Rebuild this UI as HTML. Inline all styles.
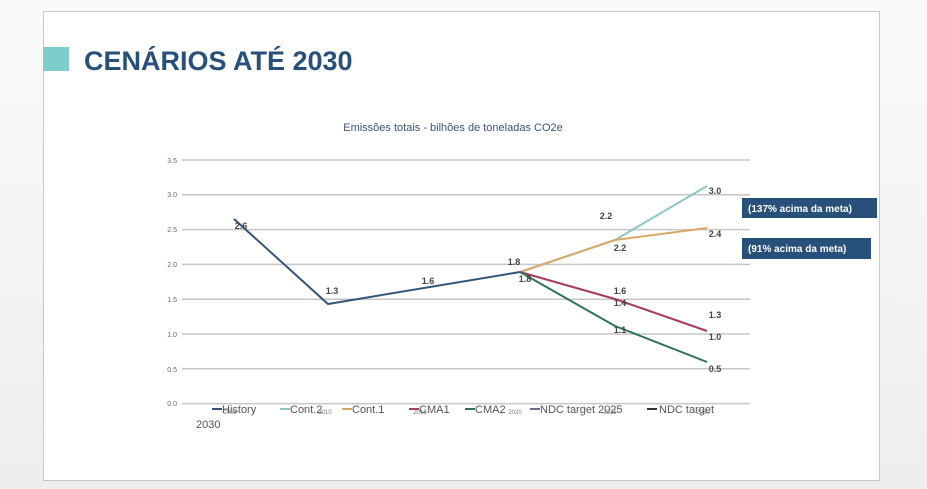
<!DOCTYPE html>
<html><head><meta charset="utf-8"><style>
body{margin:0;width:927px;height:489px;background:linear-gradient(#fafafa,#eeeeee);font-family:"Liberation Sans",Arial,sans-serif;overflow:hidden;position:relative}
.panel{position:absolute;left:43px;top:11px;width:835px;height:468px;background:#fff;border:1px solid #c8c8c8}
</style></head><body>
<div class="panel"></div>
<svg width="927" height="489" style="position:absolute;left:0;top:0" font-family="Liberation Sans, Arial, sans-serif">
<rect x="43" y="47" width="26" height="24" fill="#7ecdcd"/>
<text x="84" y="70" font-size="27" font-weight="bold" fill="#27507a">CENÁRIOS ATÉ 2030</text>
<text x="453" y="131" font-size="11" fill="#3b5573" text-anchor="middle">Emissões totais - bilhões de toneladas CO2e</text>
<g stroke="#c6c6c6" stroke-width="1.5">
<line x1="182" x2="750" y1="160" y2="160"/><line x1="182" x2="750" y1="194.8" y2="194.8"/>
<line x1="182" x2="750" y1="229.6" y2="229.6"/><line x1="182" x2="750" y1="264.4" y2="264.4"/>
<line x1="182" x2="750" y1="299.2" y2="299.2"/><line x1="182" x2="750" y1="334" y2="334"/>
<line x1="182" x2="750" y1="368.8" y2="368.8"/><line x1="182" x2="750" y1="403.6" y2="403.6"/>
</g>
<g font-size="7" fill="#666" text-anchor="end">
<text x="177" y="163">3.5</text><text x="177" y="197">3.0</text><text x="177" y="232">2.5</text>
<text x="177" y="267">2.0</text><text x="177" y="302">1.5</text><text x="177" y="337">1.0</text>
<text x="177" y="372">0.5</text><text x="177" y="406">0.0</text>
</g>
<g fill="none" stroke-width="2">
<polyline points="520,272 615,240 707,186" stroke="#8cc8c4"/>
<polyline points="520,272 615,240 707,228" stroke="#d8a866"/>
<polyline points="520,272 615,299 707,331" stroke="#a83a5a"/>
<polyline points="520,272 615,326 707,362" stroke="#2e7358"/>
<polyline points="234,219 328,304 520,272" stroke="#34557a"/>
</g>
<g font-size="9" font-weight="bold" fill="#444" text-anchor="middle">
<text x="241" y="229">2.6</text><text x="332" y="294">1.3</text><text x="428" y="284">1.6</text>
<text x="514" y="265">1.8</text><text x="525" y="282">1.8</text>
<text x="606" y="219">2.2</text><text x="620" y="251">2.2</text>
<text x="620" y="294">1.6</text><text x="620" y="306">1.4</text><text x="620" y="333">1.1</text>
<text x="715" y="194">3.0</text><text x="715" y="237">2.4</text>
<text x="715" y="318">1.3</text><text x="715" y="340">1.0</text><text x="715" y="372">0.5</text>
</g>
<rect x="742" y="198" width="135" height="20" fill="#27507a"/>
<text x="748" y="212" font-size="10" font-weight="bold" fill="#fff">(137% acima da meta)</text>
<rect x="742" y="238" width="129" height="21" fill="#27507a"/>
<text x="748" y="252" font-size="10" font-weight="bold" fill="#fff">(91% acima da meta)</text>
<g font-size="11" fill="#555">
<line x1="212" x2="222" y1="409" y2="409" stroke="#34557a" stroke-width="2"/><text x="222" y="413">History</text>
<line x1="280" x2="290" y1="409" y2="409" stroke="#8cc8c4" stroke-width="2"/><text x="290" y="413">Cont.2</text>
<line x1="342" x2="352" y1="409" y2="409" stroke="#d8a866" stroke-width="2"/><text x="352" y="413">Cont.1</text>
<line x1="409" x2="419" y1="409" y2="409" stroke="#a83a5a" stroke-width="2"/><text x="419" y="413">CMA1</text>
<line x1="465" x2="475" y1="409" y2="409" stroke="#2e7358" stroke-width="2"/><text x="475" y="413">CMA2</text>
<line x1="530" x2="540" y1="409" y2="409" stroke="#6a6a8a" stroke-width="2"/><text x="540" y="413">NDC target 2025</text>
<line x1="647" x2="657" y1="409" y2="409" stroke="#333" stroke-width="2"/><text x="659" y="413">NDC target</text>
<text x="196" y="428">2030</text>
</g>
<g font-size="6" fill="#777" text-anchor="middle">
<text x="230" y="414">2005</text><text x="325" y="414">2010</text><text x="420" y="414">2015</text>
<text x="515" y="414">2020</text><text x="610" y="414">2025</text><text x="703" y="414">2030</text>
</g>
</svg>
</body></html>
